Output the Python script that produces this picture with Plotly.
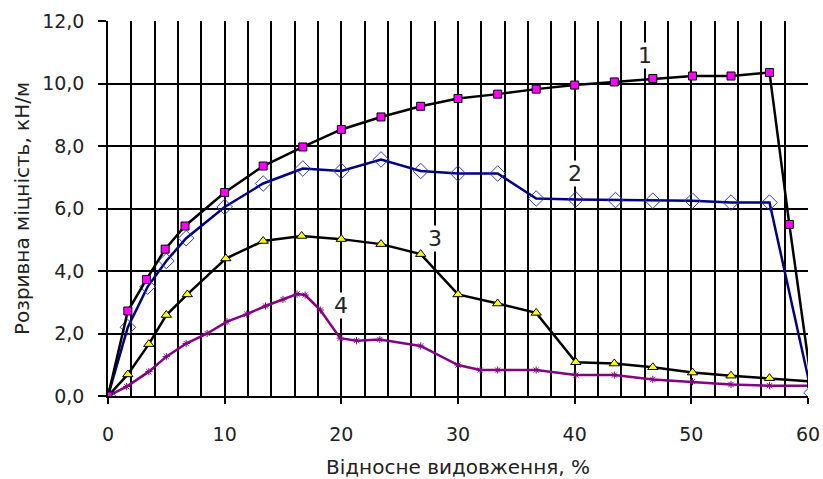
import plotly.graph_objects as go

# Series 1 (magenta squares)
x1 = [0, 1.7, 3.3, 4.9, 6.6, 10.0, 13.3, 16.7, 20.0, 23.4, 26.8, 30.0, 33.4, 36.7, 40.0, 43.4, 46.7, 50.1, 53.4, 56.7, 58.4, 60.3]
y1 = [0, 2.72, 3.73, 4.70, 5.44, 6.51, 7.36, 7.97, 8.53, 8.93, 9.27, 9.52, 9.66, 9.82, 9.95, 10.05, 10.16, 10.24, 10.24, 10.35, 5.49, 0.4]

# Series 2 (blue diamonds)
x2 = [0, 1.7, 3.4, 5.0, 6.7, 10.0, 13.3, 16.7, 20.0, 23.4, 26.8, 30.0, 33.4, 36.7, 40.1, 43.5, 46.7, 50.1, 53.4, 56.7, 60.3]
y2 = [0, 2.20, 3.50, 4.32, 5.05, 6.05, 6.80, 7.28, 7.20, 7.57, 7.20, 7.12, 7.12, 6.32, 6.29, 6.27, 6.25, 6.25, 6.19, 6.19, 0.1]

# Series 3 (yellow triangles)
x3 = [0, 1.7, 3.5, 5.0, 6.8, 10.1, 13.3, 16.6, 20.0, 23.4, 26.8, 30.0, 33.4, 36.7, 40.1, 43.4, 46.7, 50.1, 53.4, 56.7, 60.6]
y3 = [0, 0.69, 1.66, 2.59, 3.25, 4.40, 4.96, 5.12, 5.02, 4.86, 4.54, 3.25, 2.96, 2.66, 1.08, 1.04, 0.92, 0.75, 0.65, 0.57, 0.46]

# Series 4 (purple asterisks)
x4 = [0, 1.6, 3.5, 5.0, 6.7, 8.5, 10.2, 11.9, 13.5, 15.0, 16.2, 16.9, 18.2, 19.9, 21.3, 23.3, 26.8, 30.0, 31.9, 33.4, 36.7, 40.1, 43.4, 46.7, 50.1, 53.4, 56.7, 60.6]
y4 = [0, 0.30, 0.78, 1.26, 1.68, 2.00, 2.38, 2.62, 2.88, 3.09, 3.26, 3.23, 2.75, 1.85, 1.77, 1.81, 1.60, 0.99, 0.83, 0.83, 0.83, 0.67, 0.67, 0.53, 0.46, 0.37, 0.33, 0.33]

curve_labels = ["1", "2", "3", "4"]
label_x = [46, 40, 28, 20]
label_y = [10.9, 7.13, 5.05, 2.91]

x_title = "Відносне видовження, %"
y_title = "Розривна міцність, кН/м"

FONT = "DejaVu Sans"

fig = go.Figure()
fig.add_trace(go.Scatter(x=x4, y=y4, mode="lines+markers",
                         line=dict(color="#840084", width=2.5),
                         marker=dict(symbol="asterisk-open", size=6, color="#840084",
                                     line=dict(color="#840084", width=1)),
                         showlegend=False))
fig.add_trace(go.Scatter(x=x3, y=y3, mode="lines+markers",
                         line=dict(color="black", width=2.5),
                         marker=dict(symbol="triangle-up", size=9, color="#ffff00",
                                     line=dict(color="black", width=1)),
                         showlegend=False))
fig.add_trace(go.Scatter(x=x2, y=y2, mode="lines+markers",
                         line=dict(color="#000080", width=2.5),
                         marker=dict(symbol="diamond-open", size=12, color="#2a3ad0",
                                     line=dict(color="#2a3ad0", width=1)),
                         showlegend=False))
fig.add_trace(go.Scatter(x=x1, y=y1, mode="lines+markers",
                         line=dict(color="black", width=2.5),
                         marker=dict(symbol="square", size=8, color="#ff00ff",
                                     line=dict(color="black", width=1)),
                         showlegend=False))

for t, lx, ly in zip(curve_labels, label_x, label_y):
    fig.add_annotation(x=lx, y=ly, text=t, showarrow=False,
                       bgcolor="white", font=dict(family=FONT, size=22, color="#222"),
                       borderpad=0)

fig.update_layout(
    width=823, height=479,
    margin=dict(l=108, r=15, t=21, b=83),
    paper_bgcolor="white", plot_bgcolor="white",
    separators=", ",
    font=dict(family=FONT, size=19, color="#222"),
)
fig.update_xaxes(range=[0, 60], dtick=10, tick0=0,
                 showgrid=True, gridcolor="black", gridwidth=1.5,
                 minor=dict(dtick=2, showgrid=True, gridcolor="black", gridwidth=1.5),
                 ticks="outside", ticklen=6, tickcolor="black", tickwidth=1.5,
                 ticklabelstandoff=14,
                 showline=True, linecolor="black", linewidth=1.5, zeroline=False,
                 title=dict(text=x_title, font=dict(family=FONT, size=20), standoff=17),
                 automargin=False)
fig.update_yaxes(range=[0, 12], dtick=2, tick0=0, tickformat=".1f",
                 showgrid=True, gridcolor="black", gridwidth=1.5,
                 ticks="outside", ticklen=8, tickcolor="black", tickwidth=1.5,
                 ticklabelstandoff=10,
                 showline=True, linecolor="black", linewidth=1.5, zeroline=False,
                 title=dict(text=y_title, font=dict(family=FONT, size=20), standoff=7),
                 automargin=False)

fig.write_html("out.html",
               config={"displayModeBar": False},
               post_script="document.body.style.margin='0px';document.body.style.overflow='hidden';")
